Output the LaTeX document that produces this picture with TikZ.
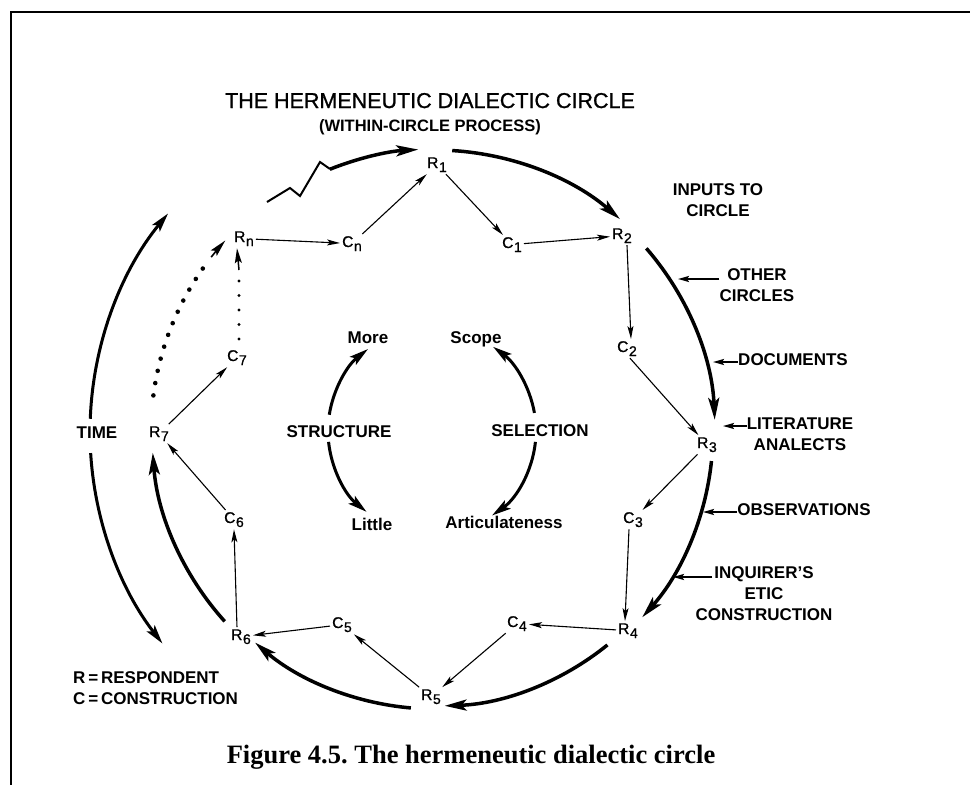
\documentclass[tikz,border=0pt]{standalone}
\usepackage{fontspec}
\setmainfont{Liberation Sans}
\newfontfamily\medfont[FakeBold=1]{Liberation Sans}
\newfontfamily\capfont{Liberation Serif}
\usetikzlibrary{arrows.meta,calc}
\frenchspacing

% subscript of an R/C label
\newcommand\lowidx[1]{\kern0.6pt\raisebox{-4pt}{\fontsize{14}{14}\selectfont #1}}

\begin{document}
\begin{tikzpicture}[x=1pt,y=-1pt,
  lab/.style={inner sep=2pt, anchor=base west, font=\medfont\fontsize{15.5}{16}\selectfont},
  word/.style={inner sep=0pt, anchor=base, font=\bfseries\fontsize{17}{21}\selectfont},
  side/.style={inner sep=0pt, align=center, font=\bfseries\fontsize{17}{21}\selectfont},
  thinarr/.style={line width=1.1pt, -{Stealth[length=13pt,width=6pt,inset=3pt]}},
  thickarr/.style={line width=3.5pt, -{Stealth[length=22pt,width=11pt,inset=5pt]}},
  midarr/.style={line width=3pt, -{Stealth[length=19pt,width=10pt,inset=4pt]}},
  inarr/.style={line width=1.8pt, -{Stealth[length=11pt,width=6pt,inset=2pt]}},
  bigdots/.style={line width=4.6pt, line cap=round, dash pattern=on 0pt off 12.5pt},
  smalldots/.style={line width=3.4pt, line cap=round, dash pattern=on 0pt off 14.5pt},
]
\useasboundingbox (0,0) rectangle (970,785);

% frame
\draw[line width=1.6pt] (11,785) -- (11,12) -- (970,12);

% centres of the circles
\coordinate (O) at (435,432);
\coordinate (S) at (432,431);

% headings
\node[anchor=base, inner sep=0pt, font=\medfont\fontsize{21.5}{24}\selectfont] (title) at (430,108)
  {THE HERMENEUTIC DIALECTIC CIRCLE};
\node[anchor=base, inner sep=0pt, font=\bfseries\fontsize{16.5}{20}\selectfont] (sub) at (430,131)
  {(WITHIN-CIRCLE PROCESS)};

% respondents and constructions
\node[lab] (R1) at (425,168) {R\lowidx{1}};
\node[lab] (C1) at (500,248) {C\lowidx{1}};
\node[lab] (R2) at (610,239) {R\lowidx{2}};
\node[lab] (C2) at (615,352) {C\lowidx{2}};
\node[lab] (R3) at (695,448) {R\lowidx{3}};
\node[lab] (C3) at (621,523) {C\lowidx{3}};
\node[lab] (R4) at (616,634) {R\lowidx{4}};
\node[lab] (C4) at (505,627) {C\lowidx{4}};
\node[lab] (R5) at (419,700) {R\lowidx{5}};
\node[lab] (C5) at (330,628) {C\lowidx{5}};
\node[lab] (R6) at (229,640) {R\lowidx{6}};
\node[lab] (C6) at (222,523) {C\lowidx{6}};
\node[lab] (R7) at (147,437) {R\lowidx{7}};
\node[lab] (C7) at (225,361) {C\lowidx{7}};
\node[lab] (Rn) at (232,242) {R\lowidx{n}};
\node[lab] (Cn) at (340,247) {C\lowidx{n}};

% thin links inside the circle
\draw[thinarr] (Rn) -- (Cn);
\draw[thinarr] (Cn) -- (R1);
\draw[thinarr] (R1) -- (C1);
\draw[thinarr] (C1) -- (R2);
\draw[thinarr] ([xshift=5pt]R2.south) -- ([xshift=4pt]C2.north);
\draw[thinarr] ([xshift=3pt]C2.south) -- (R3);
\draw[thinarr] (R3) -- (C3);
\draw[thinarr] ([xshift=-4pt]C3.south) -- ([xshift=-3pt]R4.north);
\draw[thinarr] (R4) -- (C4);
\draw[thinarr] (C4) -- (R5);
\draw[thinarr] (R5) -- (C5);
\draw[thinarr] (C5) -- (R6);
\draw[thinarr] ([xshift=-4pt]R6.north) -- (C6.south);
\draw[thinarr] (C6) -- (R7);
\draw[thinarr] (R7) -- (C7);

% dotted continuation C7 -> Rn
\coordinate (rnfoot) at (239,270);
\draw[smalldots] ([xshift=2pt,yshift=9pt]C7.north) -- (rnfoot);
\draw[line width=1.5pt, -{Stealth[length=15pt,width=7pt,inset=3pt]}] (rnfoot) -- ([xshift=-7pt]Rn.south);

% outer hermeneutic circle
\draw[thickarr] ($(O)+(-86.5:282)$) arc[start angle=-86.5, end angle=-49, radius=282];
\draw[thickarr] ($(O)+(-41:280)$) arc[start angle=-41, end angle=-2.5, radius=280];
\draw[thickarr] ($(O)+(6:278)$) arc[start angle=6, end angle=41.8, radius=278];
\draw[thickarr] ($(O)+(51:274)$) arc[start angle=51, end angle=88, radius=274];
\draw[thickarr] ($(O)+(95:277)$) arc[start angle=95, end angle=130.5, radius=277];
\draw[thickarr] ($(O)+(138:283)$) arc[start angle=138, end angle=175.8, radius=283];
% dotted return towards Rn
\draw[bigdots] ($(O)+(-172.6:284)$) arc[start angle=-172.6, end angle=-144.5, radius=284];
\draw[line width=1.6pt, -{Stealth[length=17pt,width=8pt,inset=3pt]}]
  ($(O)+(-142:284)$) arc[start angle=-142, end angle=-137.6, radius=284];
% broken link from Rn into R1
\draw[line width=2pt, line join=miter]
  (267,202) -- (290,188) -- (300,196) -- (320,162) -- (330,169);
\draw[thickarr] ($(O)+(-111.8:283)$) arc[start angle=-111.8, end angle=-93.4, radius=283];

% time
\node[word] (time) at (97,438) {TIME};
\draw[midarr] ($(O)+(-177.8:345)$) arc[start angle=-177.8, end angle=-140.7, radius=345];
\draw[midarr] ($(O)+(176.5:345)$) arc[start angle=176.5, end angle=142.2, radius=345];

% structure and selection
\node[word] (structure) at (339,437) {STRUCTURE};
\node[word] (selection) at (540,436) {SELECTION};
\node[word] (more) at (368,343) {More};
\node[word] (scope) at (476,343) {Scope};
\node[word] (little) at (372,530) {Little};
\node[word] (artic) at (504,528) {Articulateness};
\draw[midarr] ($(S)+(-171:104)$) arc[start angle=-171, end angle=-128, radius=104];
\draw[midarr] ($(S)+(174:104)$) arc[start angle=174, end angle=129, radius=104];
\draw[midarr] ($(S)+(-10:104)$) arc[start angle=-10, end angle=-54, radius=104];
\draw[midarr] ($(S)+(6:104)$) arc[start angle=6, end angle=55, radius=103];

% inputs to the circle
\node[side] (inputs) at (718,200) {INPUTS TO\\CIRCLE};
\node[side] (other) at (757,285) {OTHER\\CIRCLES};
\node[word] (docs) at (793,365) {DOCUMENTS};
\node[side] (lit) at (800,434) {LITERATURE\\ANALECTS};
\node[word] (obs) at (804,515) {OBSERVATIONS};
\node[side] (inq) at (764,594) {INQUIRER'S\\ETIC\\CONSTRUCTION};

\coordinate (t1) at (678,279);
\coordinate (t2) at (713,362);
\coordinate (t3) at (723,426);
\coordinate (t4) at (703,512);
\coordinate (t5) at (673,577);
\draw[inarr] (other.west |- t1) -- (t1);
\draw[inarr] (docs.west |- t2) -- (t2);
\draw[inarr] (lit.west |- t3) -- (t3);
\draw[inarr] (obs.west |- t4) -- (t4);
\draw[inarr] ([xshift=17pt]inq.west |- t5) -- (t5);

% legend
\node[anchor=base west, inner sep=0pt, font=\bfseries\fontsize{17}{21}\selectfont] (legR) at (73,683)
  {R\,=\,RESPONDENT};
\node[anchor=base west, inner sep=0pt, font=\bfseries\fontsize{17}{21}\selectfont] (legC) at (73,704)
  {C\,=\,CONSTRUCTION};

% caption
\node[anchor=base, inner sep=0pt, font=\capfont\bfseries\fontsize{26.5}{30}\selectfont] (caption) at (471,763)
  {Figure 4.5. The hermeneutic dialectic circle};
\end{tikzpicture}
\end{document}
